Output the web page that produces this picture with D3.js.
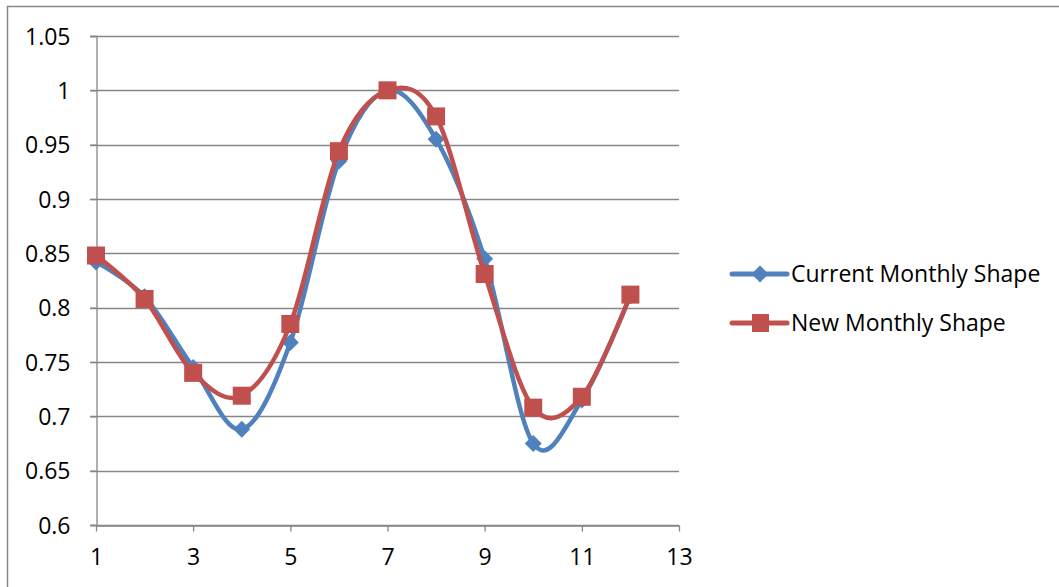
<!DOCTYPE html>
<html>
<head>
<meta charset="utf-8">
<script src="https://cdn.jsdelivr.net/npm/d3@7"></script>
<style>
  html, body { margin: 0; padding: 0; background: #fff; }
  svg { display: block; }
  text { font-family: "Open Sans", "Noto Sans", sans-serif; fill: #000; }
</style>
</head>
<body>
<svg id="chart" width="1059" height="587"></svg>
<script>
// Monthly shape factors
const months = [1, 2, 3, 4, 5, 6, 7, 8, 9, 10, 11, 12];
const currentShape = [0.842, 0.810, 0.745, 0.688, 0.768, 0.935, 1.000, 0.955, 0.845, 0.675, 0.715, 0.811];
const newShape     = [0.848, 0.808, 0.740, 0.719, 0.785, 0.944, 1.000, 0.976, 0.831, 0.708, 0.718, 0.812];
const xTicks = [1, 3, 5, 7, 9, 11, 13];
const yTicks = [0.6, 0.65, 0.7, 0.75, 0.8, 0.85, 0.9, 0.95, 1, 1.05];
const seriesNames = ["Current Monthly Shape", "New Monthly Shape"];

const blue = "#4F81BD", red = "#C0504D", grid = "#868686";
const fontSize = 23;

const svg = d3.select("#chart");

// chart area frame
svg.append("rect")
  .attr("x", 7.5).attr("y", 6.5)
  .attr("width", 1100).attr("height", 700)
  .attr("fill", "none").attr("stroke", grid).attr("stroke-width", 1.5);

const x = d3.scaleLinear().domain([1, 13]).range([96, 679]);
const y = d3.scaleLinear().domain([0.6, 1.05]).range([525, 36]);

// horizontal gridlines
svg.append("g").selectAll("line").data(yTicks).join("line")
  .attr("x1", x(1) - 6).attr("x2", x(13))
  .attr("y1", d => Math.round(y(d)) + 0.5).attr("y2", d => Math.round(y(d)) + 0.5)
  .attr("stroke", grid).attr("stroke-width", 1.3);

// y axis
const yAxis = svg.append("g")
  .attr("transform", `translate(${x(1) + 0.5},0)`)
  .call(d3.axisLeft(y).tickValues(yTicks).tickSize(6).tickPadding(20)
    .tickFormat(d => d3.format("")(+d.toFixed(2))));
yAxis.select(".domain").attr("stroke", grid).attr("stroke-width", 1.3);
yAxis.selectAll(".tick line").attr("stroke", grid).attr("stroke-width", 1.3);
yAxis.selectAll(".tick text").attr("font-size", fontSize).attr("font-family", "'Open Sans', sans-serif")
  .attr("dy", "0.36em").attr("fill", "#000");

// x axis
const xAxis = svg.append("g")
  .attr("transform", `translate(0,${Math.round(y(0.6)) + 0.5})`)
  .call(d3.axisBottom(x).tickValues(xTicks).tickSize(6).tickSizeOuter(0).tickPadding(17));
xAxis.select(".domain").attr("stroke", grid).attr("stroke-width", 1.3);
xAxis.selectAll(".tick line").attr("stroke", grid).attr("stroke-width", 1.3);
xAxis.selectAll(".tick text").attr("font-size", fontSize).attr("font-family", "'Open Sans', sans-serif")
  .attr("fill", "#000");

const line = d3.line()
  .x((d, i) => x(months[i]))
  .y(d => y(d))
  .curve(d3.curveCardinal.tension(0));

const diamond = s => `M0,${-s}L${s},0L0,${s}L${-s},0Z`;

// current series
svg.append("path").datum(currentShape)
  .attr("d", line).attr("fill", "none").attr("stroke", blue)
  .attr("stroke-width", 4.5).attr("stroke-linejoin", "round");
svg.append("g").selectAll("path").data(currentShape).join("path")
  .attr("transform", (d, i) => `translate(${x(months[i])},${y(d)})`)
  .attr("d", diamond(8.5)).attr("fill", blue);

// new series
svg.append("path").datum(newShape)
  .attr("d", line).attr("fill", "none").attr("stroke", red)
  .attr("stroke-width", 4.5).attr("stroke-linejoin", "round");
svg.append("g").selectAll("rect").data(newShape).join("rect")
  .attr("x", (d, i) => x(months[i]) - 9).attr("y", d => y(d) - 9)
  .attr("width", 18).attr("height", 18).attr("fill", red);

// legend
const legend = svg.append("g");
const items = [
  { name: seriesNames[0], color: blue, marker: "diamond", cy: 274 },
  { name: seriesNames[1], color: red, marker: "square", cy: 323 }
];
items.forEach(it => {
  const g = legend.append("g");
  g.append("line").attr("x1", 732).attr("x2", 787).attr("y1", it.cy).attr("y2", it.cy)
    .attr("stroke", it.color).attr("stroke-width", 5).attr("stroke-linecap", "round");
  if (it.marker === "diamond") {
    g.append("path").attr("transform", `translate(760,${it.cy})`).attr("d", diamond(8.5)).attr("fill", it.color);
  } else {
    g.append("rect").attr("x", 752).attr("y", it.cy - 9).attr("width", 17).attr("height", 18).attr("fill", it.color);
  }
  g.append("text").attr("x", 791).attr("y", it.cy).attr("dy", "0.36em")
    .attr("font-size", fontSize).text(it.name);
});
</script>
</body>
</html>
